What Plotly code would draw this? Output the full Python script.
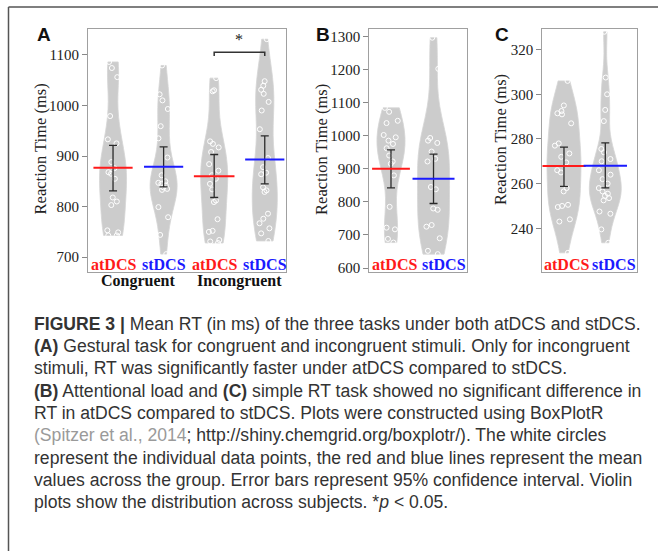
import numpy as np
import plotly.graph_objects as go

# ---------------- data ----------------
A_labels = ["atDCS", "stDCS", "atDCS", "stDCS"]
A_groups = ["Congruent", "Incongruent"]
A_at_cong = [1086, 1074, 1056, 979, 933, 925, 888, 876, 868, 865, 855, 818, 810, 803, 753, 749, 743, 743]
A_st_cong = [1079, 1022, 1010, 993, 959, 935, 897, 862, 850, 847, 845, 842, 838, 835, 833, 799, 779, 744, 706]
A_at_incong = [1054, 1030, 1028, 929, 924, 917, 908, 884, 871, 862, 855, 845, 834, 812, 809, 775, 752, 750, 734, 731, 728]
A_st_incong = [1131, 1048, 1039, 1031, 1023, 1007, 990, 953, 896, 878, 867, 864, 838, 832, 829, 786, 776, 767, 757, 747, 732]
A_means = [877, 879, 860, 893]
A_ci_lo = [831, 839, 818, 845]
A_ci_hi = [921, 918, 903, 940]
A_ticks = [700, 800, 900, 1000, 1100]
A_sig_y = 1105

B_labels = ["atDCS", "stDCS"]
B_at = [1084, 1072, 1045, 1038, 1002, 995, 985, 975, 962, 940, 922, 915, 880, 785, 722, 717, 688, 677]
B_st = [1296, 1202, 993, 985, 978, 952, 930, 922, 845, 838, 780, 776, 730, 725, 690, 652, 642]
B_means = [900, 870]
B_ci_lo = [842, 795]
B_ci_hi = [957, 944]
B_ticks = [600, 700, 800, 900, 1000, 1100, 1200, 1300]

C_labels = ["atDCS", "stDCS"]
C_at = [306, 295, 292.5, 291.5, 291, 287, 278, 277, 273.5, 272, 269.5, 266, 265, 258, 256.5, 250.5, 250, 249.5, 244, 243, 229]
C_st = [328, 307.5, 300, 293, 288, 275.5, 274, 271, 270, 266, 264, 262, 260, 258, 256.5, 255.5, 254.5, 253.5, 252.5, 247.5, 246.5, 239.5, 233.5]
C_means = [267.9, 268]
C_ci_lo = [258.8, 258.1]
C_ci_hi = [276.3, 278.2]
C_ticks = [240, 260, 280, 300, 320]

caption_lines = [
    "<b>FIGURE 3 |</b> Mean RT (in ms) of the three tasks under both atDCS and stDCS.",
    "<b>(A)</b> Gestural task for congruent and incongruent stimuli. Only for incongruent",
    "stimuli, RT was significantly faster under atDCS compared to stDCS.",
    "<b>(B)</b> Attentional load and <b>(C)</b> simple RT task showed no significant difference in",
    "RT in atDCS compared to stDCS. Plots were constructed using BoxPlotR",
    "<span style='color:#9a9a9a'>(Spitzer et al., 2014</span>; http://shiny.chemgrid.org/boxplotr/). The white circles",
    "represent the individual data points, the red and blue lines represent the mean",
    "values across the group. Error bars represent 95% confidence interval. Violin",
    "plots show the distribution across subjects. *<i>p</i> &lt; 0.05.",
]

# ---------------- style ----------------
W, H = 658, 555
SERIF = "Liberation Serif, Times New Roman, serif"
SANS = "Liberation Sans, Arial, sans-serif"
COLORS = {"atDCS": "#ff1a1a", "stDCS": "#1a1aff"}
VFILL = "#cccccc"


def bw_nrd0(v):
    v = np.asarray(v, float)
    sd = v.std(ddof=1)
    iqr = np.subtract(*np.percentile(v, [75, 25]))
    return 0.9 * min(sd, iqr / 1.34) * len(v) ** (-0.2)


panels = [
    dict(name="A", xa="x", ya="y", data=[A_at_cong, A_st_cong, A_at_incong, A_st_incong],
         labels=A_labels, means=A_means, lo=A_ci_lo, hi=A_ci_hi, ticks=A_ticks,
         dom_px=(88, 286), yr=[670.6, 1151], xr=[0.505, 4.42],
         vw=[27, 27, 27, 25], spacing=50.5, mw=[28, 28, 29, 28],
         letter=(43.5, 35), title=(40.5, 150), label_dx=[0, 0, 0, 0]),
    dict(name="B", xa="x2", ya="y2", data=[B_at, B_st],
         labels=B_labels, means=B_means, lo=B_ci_lo, hi=B_ci_hi, ticks=B_ticks,
         dom_px=(369.3, 466.7), yr=[588, 1322], xr=[0.49, 2.78],
         vw=[28, 32], spacing=42.5, mw=[27, 30],
         letter=(322.5, 35), title=(322, 151), label_dx=[0.08, 0.25]),
    dict(name="C", xa="x3", ya="y3", data=[C_at, C_st],
         labels=C_labels, means=C_means, lo=C_ci_lo, hi=C_ci_hi, ticks=C_ticks,
         dom_px=(542.3, 637.3), yr=[220.4, 329.2], xr=[0.475, 2.775],
         vw=[34, 32], spacing=41.3, mw=[31, 31],
         letter=(501.5, 35), title=(501, 141), label_dx=[0.05, 0.22]),
]

Y_TOP, Y_BOT = 29.3, 274.0

fig = go.Figure()
annotations = []
shapes = []

for p in panels:
    n = len(p["data"])
    xs = list(range(1, n + 1))
    for i, vals in enumerate(p["data"]):
        fig.add_trace(go.Violin(
            x=[xs[i]] * len(vals), y=vals, xaxis=p["xa"], yaxis=p["ya"],
            width=p["vw"][i] / p["spacing"], scalemode="width", spanmode="hard",
            bandwidth=bw_nrd0(vals), fillcolor=VFILL,
            line=dict(color="#d6d6d6", width=0.8),
            points="all", pointpos=0, jitter=0.55,
            marker=dict(symbol="circle-open", size=5, color="white",
                        line=dict(color="white", width=1)),
            box_visible=False, meanline_visible=False, showlegend=False,
            hoverinfo="skip",
        ))
    means = np.array(p["means"], float)
    fig.add_trace(go.Scatter(
        x=xs, y=means, xaxis=p["xa"], yaxis=p["ya"], mode="markers",
        marker=dict(size=1, color="rgba(0,0,0,0)"),
        error_y=dict(type="data", symmetric=False,
                     array=list(np.array(p["hi"]) - means),
                     arrayminus=list(means - np.array(p["lo"])),
                     color="#2b2b2b", thickness=1.3, width=4),
        showlegend=False, hoverinfo="skip"))
    for i in range(n):
        fig.add_trace(go.Scatter(
            x=[xs[i]], y=[means[i]], xaxis=p["xa"], yaxis=p["ya"], mode="markers",
            marker=dict(symbol="line-ew", size=p["mw"][i],
                        line=dict(color=COLORS[p["labels"][i]], width=2)),
            showlegend=False, hoverinfo="skip"))
        annotations.append(dict(
            x=xs[i] + p["label_dx"][i], y=1 - 266.5 / H, xref=p["xa"], yref="paper",
            text="<b>%s</b>" % p["labels"][i], showarrow=False,
            font=dict(family=SERIF, size=16, color=COLORS[p["labels"][i]]),
            xanchor="center", yanchor="middle"))
    # panel letter
    annotations.append(dict(x=p["letter"][0] / W, y=1 - p["letter"][1] / H, xref="paper", yref="paper",
                            text="<b>%s</b>" % p["name"], showarrow=False,
                            font=dict(family=SANS, size=19, color="#111"),
                            xanchor="center", yanchor="middle"))
    # y title
    annotations.append(dict(x=p["title"][0] / W, y=1 - p["title"][1] / H, xref="paper", yref="paper",
                            text="Reaction Time (ms)", showarrow=False, textangle=-90,
                            font=dict(family=SERIF, size=16.5, color="#222"),
                            xanchor="center", yanchor="middle"))
    ax_idx = "" if p["xa"] == "x" else p["xa"][1:]
    fig.layout["xaxis" + ax_idx] = dict(
        domain=[p["dom_px"][0] / W, p["dom_px"][1] / W], range=p["xr"], anchor=p["ya"],
        showticklabels=False, ticks="", showgrid=False, zeroline=False,
        showline=True, mirror=True, linecolor="#a0a0a0", linewidth=1, fixedrange=True)
    fig.layout["yaxis" + ax_idx] = dict(
        domain=[1 - Y_BOT / H, 1 - Y_TOP / H], range=p["yr"], anchor=p["xa"],
        tickvals=p["ticks"], ticks="outside", ticklen=5, tickcolor="#888", tickwidth=1,
        tickfont=dict(family=SERIF, size=15, color="#222"),
        showgrid=False, zeroline=False, showline=True, mirror=True,
        linecolor="#a0a0a0", linewidth=1, fixedrange=True)

# group labels for panel A
for gi, g in enumerate(A_groups):
    annotations.append(dict(x=1.5 + 2 * gi, y=1 - 283.5 / H, xref="x", yref="paper",
                            text="<b>%s</b>" % g, showarrow=False,
                            font=dict(family=SERIF, size=16, color="#111"),
                            xanchor="center", yanchor="middle"))

# significance bracket (between incongruent atDCS and stDCS)
drop = 7
shapes.append(dict(type="path", xref="x", yref="y",
                   path="M 3,%g L 3,%g L 4,%g L 4,%g" % (A_sig_y - drop, A_sig_y, A_sig_y, A_sig_y - drop),
                   line=dict(color="#333", width=1.5)))
annotations.append(dict(x=3.5, y=A_sig_y + 4, xref="x", yref="y", text="*", showarrow=False,
                        font=dict(family=SERIF, size=16, color="#222"),
                        xanchor="center", yanchor="bottom"))

# caption
for i, line in enumerate(caption_lines):
    annotations.append(dict(x=32 / W, y=1 - (326 + 22.5 * i) / H, xref="paper", yref="paper",
                            text=line, showarrow=False, align="left",
                            font=dict(family=SANS, size=17.6, color="#333"),
                            xanchor="left", yanchor="middle"))

# outer frame (top and left)
shapes.append(dict(type="line", xref="paper", yref="paper", x0=8.5 / W, x1=1, y0=1 - 7 / H, y1=1 - 7 / H,
                   line=dict(color="#555", width=1.5)))
shapes.append(dict(type="line", xref="paper", yref="paper", x0=8.5 / W, x1=8.5 / W, y0=1 - 7 / H, y1=0,
                   line=dict(color="#555", width=1.5)))

fig.update_layout(width=W, height=H, margin=dict(l=0, r=0, t=0, b=0),
                  paper_bgcolor="white", plot_bgcolor="white",
                  annotations=annotations, shapes=shapes, showlegend=False)

fig.write_html("out.html", config={"displayModeBar": False},
               post_script="document.body.style.margin='0px';document.body.style.overflow='hidden';")
